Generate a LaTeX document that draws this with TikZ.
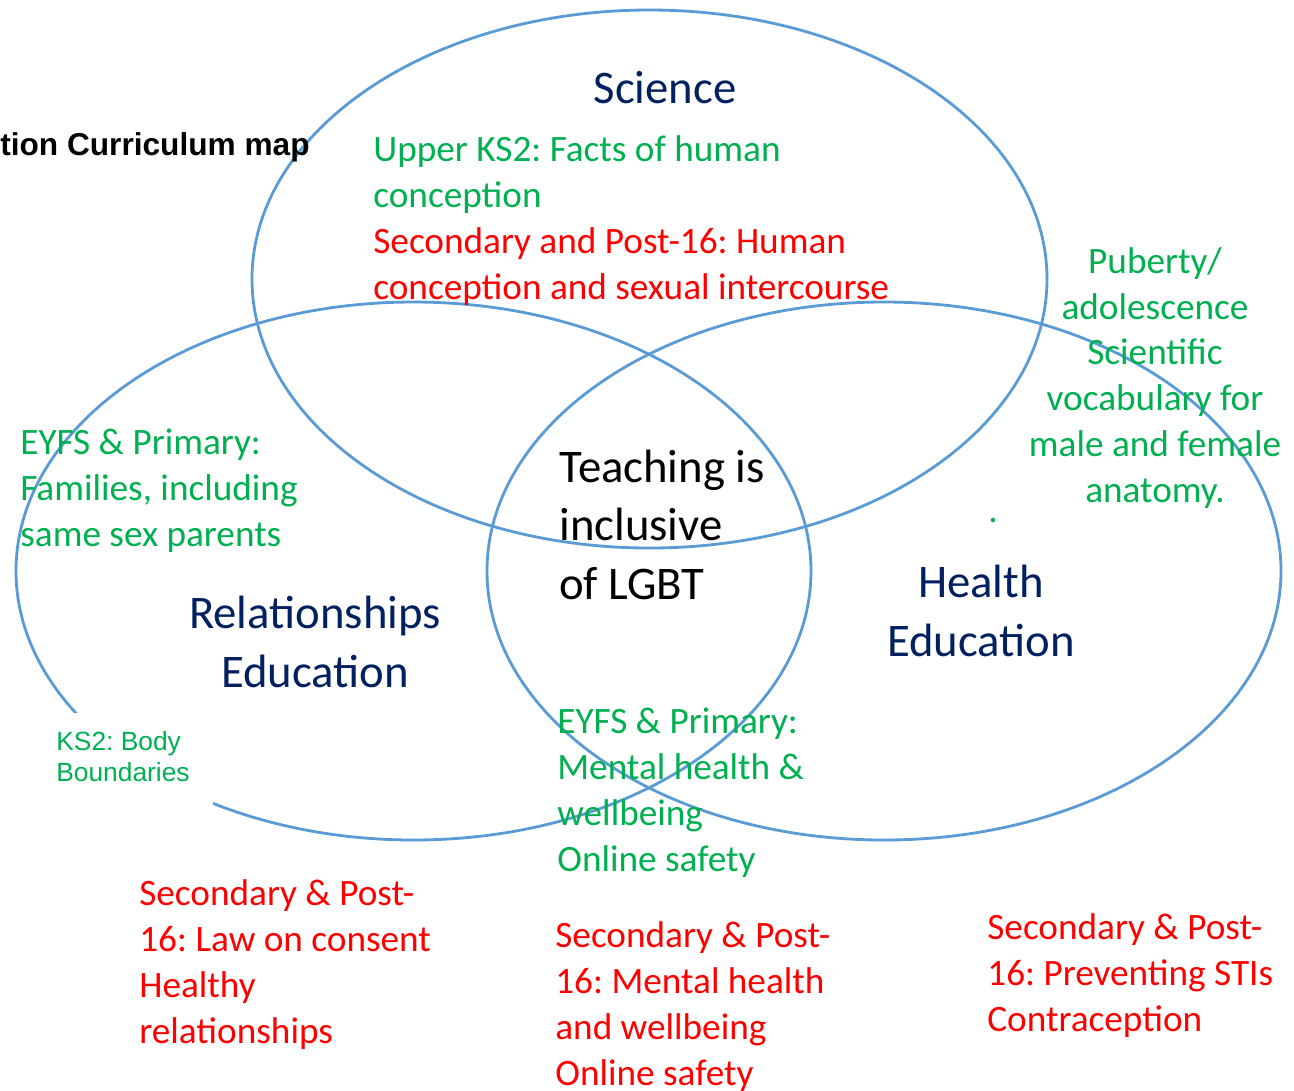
\documentclass[tikz,border=0pt]{standalone}
\usepackage{fontspec}
\setmainfont{Carlito}
\newfontfamily\arialfont{Liberation Sans}
\definecolor{ringblue}{HTML}{5B9BD5}
\definecolor{txtgreen}{HTML}{00B050}
\definecolor{txtred}{HTML}{FF0000}
\definecolor{txtnavy}{HTML}{002060}
\frenchspacing

\begin{document}
\begin{tikzpicture}[x=0.02cm,y=-0.02cm,
  ring/.style={draw=ringblue,line width=1.6pt},
  body/.style={inner sep=0pt,align=left,anchor=base west,font=\fontsize{21.2}{26}\selectfont},
  greentxt/.style={body,text=txtgreen},
  redtxt/.style={body,text=txtred},
  headtxt/.style={inner sep=0pt,align=center,anchor=base,text=txtnavy,font=\fontsize{26.6}{33.5}\selectfont}]

\useasboundingbox (0,0) rectangle (1294,1090);

\draw [ring] (649.5,279) ellipse [x radius=397.5,y radius=269];
\draw [ring] (413.5,571) ellipse [x radius=397.5,y radius=269];
\draw [ring] (884,571) ellipse [x radius=397,y radius=269];

\node [inner sep=0pt,anchor=base west,font=\arialfont\bfseries\fontsize{18}{21}\selectfont] (title) at (0,155) {tion Curriculum map};

\node [headtxt] (science) at (665,103) {Science};
\node [greentxt] (sciKS) at (373,299) {Upper KS2: Facts of human\\conception\\\textcolor{txtred}{Secondary and Post-16: Human}\\\textcolor{txtred}{conception and sexual intercourse}};

\node [greentxt,align=center,anchor=base] (puberty) at (1155,502) {Puberty/\\adolescence\\Scientific\\vocabulary for\\male and female\\anatomy.};
\node [greentxt,anchor=base] (dot) at (993,522) {.};

\node [greentxt] (eyfsFam) at (20,546) {EYFS \& Primary:\\Families, including\\same sex parents};
\node [headtxt] (relEd) at (315,687) {Relationships\\Education};
\node [body,font=\fontsize{26.6}{33.3}\selectfont] (lgbt) at (559,599) {Teaching is\\inclusive\\of LGBT};
\node [headtxt] (healthEd) at (981,656) {Health\\Education};
\node [greentxt] (eyfsMent) at (557,871) {EYFS \& Primary:\\Mental health \&\\wellbeing\\Online safety};

\fill [white] (46,713) rectangle (213,805);
\node [inner sep=0pt,align=left,anchor=base west,text=txtgreen,font=\arialfont\fontsize{15}{17.6}\selectfont] (ks2) at (56,781) {KS2: Body\\Boundaries};

\node [redtxt] (secRel) at (139,1043) {Secondary \& Post-\\16: Law on consent\\Healthy\\relationships};
\node [redtxt] (secMent) at (555,1085) {Secondary \& Post-\\16: Mental health\\and wellbeing\\Online safety};
\node [redtxt] (secSTI) at (987,1031) {Secondary \& Post-\\16: Preventing STIs\\Contraception};

\end{tikzpicture}
\end{document}
